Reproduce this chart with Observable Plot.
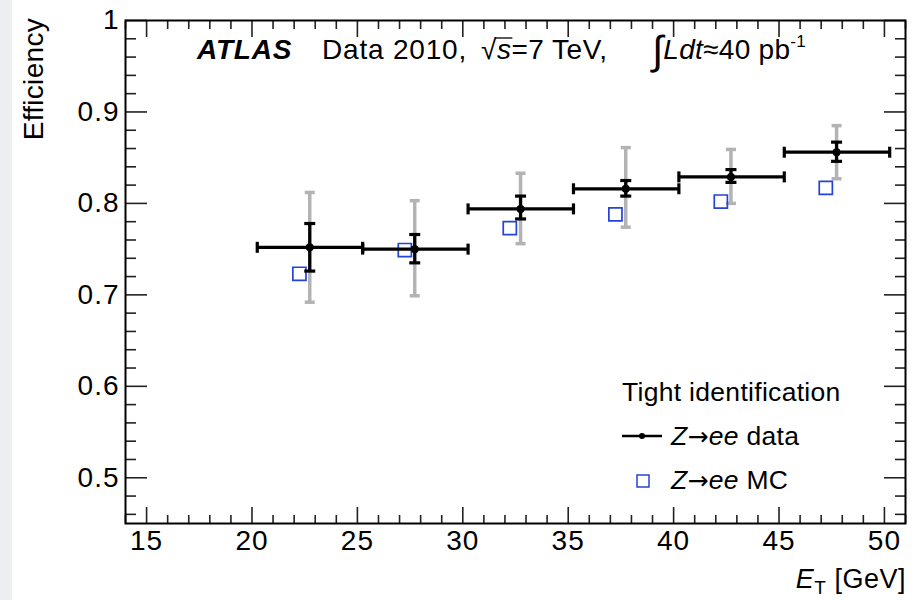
<!DOCTYPE html>
<html>
<head>
<meta charset="utf-8">
<script src="https://cdn.jsdelivr.net/npm/d3@7"></script>
<script src="https://cdn.jsdelivr.net/npm/@observablehq/plot@0.6"></script>
<style>
  body { margin: 0; background: #fff; }
  #wrap { position: relative; width: 920px; height: 600px; overflow: hidden; }
  #band { position: absolute; left: 0; top: 0; width: 12px; height: 600px; background: #eceef2; }
  svg text { font-family: "Liberation Sans", Arial, sans-serif; }
</style>
</head>
<body>
<div id="wrap"></div>
<script>
// ---- data ----
const binLo  = [20.25, 25.25, 30.25, 35.25, 40.25, 45.25];
const binHi  = [25.25, 30.25, 35.25, 40.25, 45.25, 50.25];
const dataX  = [22.74, 27.72, 32.74, 37.73, 42.72, 47.73];
const dataY  = [0.752, 0.750, 0.794, 0.816, 0.829, 0.856];
const statLo = [0.726, 0.735, 0.783, 0.808, 0.823, 0.846];
const statHi = [0.778, 0.766, 0.808, 0.825, 0.837, 0.867];
const sysLo  = [0.692, 0.699, 0.756, 0.774, 0.800, 0.827];
const sysHi  = [0.812, 0.803, 0.833, 0.861, 0.859, 0.885];
const mcX    = [22.25, 27.25, 32.23, 37.24, 42.24, 47.22];
const mcY    = [0.723, 0.749, 0.773, 0.788, 0.802, 0.817];

const xMajor = [15, 20, 25, 30, 35, 40, 45, 50];
const yMajor = [0.5, 0.6, 0.7, 0.8, 0.9, 1.0];
const xMinor = d3.range(14, 51.01, 1).filter(v => v % 5 !== 0);
const yMinor = d3.range(46, 100, 2).filter(v => v % 10 !== 0).map(v => v / 100);

const rows = dataX.map((x, i) => ({x, y: dataY[i], lo: binLo[i], hi: binHi[i],
  sLo: statLo[i], sHi: statHi[i], yLo: sysLo[i], yHi: sysHi[i]}));
const mc = mcX.map((x, i) => ({x, y: mcY[i]}));

const BLACK = "#000", GREY = "#b3b3b3", BLUE = "#2443d8";
const hCap = {draw(ctx, size) { const w = Math.sqrt(size / Math.PI); ctx.moveTo(-w, 0); ctx.lineTo(w, 0); }};
const vCap = {draw(ctx, size) { const w = Math.sqrt(size / Math.PI); ctx.moveTo(0, -w); ctx.lineTo(0, w); }};
const tk = {fill: "none", label: null, stroke: "#222", strokeWidth: 1.6};

const chart = Plot.plot({
  width: 920, height: 600,
  marginLeft: 125, marginRight: 15, marginTop: 20, marginBottom: 77,
  x: {domain: [14, 51]},
  y: {domain: [0.45, 1]},
  style: {fontFamily: "'Liberation Sans', Arial, sans-serif", background: "transparent", color: "#000", letterSpacing: "1px"},
  marks: [
    Plot.axisX(xMinor, {anchor: "bottom", tickSize: -8, ...tk}),
    Plot.axisX(xMinor, {anchor: "top", tickSize: -8, ...tk}),
    Plot.axisX(xMajor, {anchor: "bottom", tickSize: -16, ...tk}),
    Plot.axisX(xMajor, {anchor: "top", tickSize: -16, ...tk}),
    Plot.axisY(yMinor, {anchor: "left", tickSize: -11, ...tk}),
    Plot.axisY(yMinor, {anchor: "right", tickSize: -11, ...tk}),
    Plot.axisY(yMajor, {anchor: "left", tickSize: -22, ...tk}),
    Plot.axisY(yMajor, {anchor: "right", tickSize: -22, ...tk}),
    Plot.axisX(xMajor, {anchor: "bottom", tickSize: 0, tickPadding: 7, fontSize: 28, label: null}),
    Plot.axisY(yMajor, {anchor: "left", tickSize: 0, tickPadding: 6, fontSize: 28, label: null,
      tickFormat: d => d === 1 ? "1" : d.toFixed(1)}),
    Plot.frame({stroke: BLACK, strokeWidth: 2}),
    // systematic (grey)
    Plot.ruleX(rows, {x: "x", y1: "yLo", y2: "yHi", stroke: GREY, strokeWidth: 3.5}),
    Plot.dot(rows, {x: "x", y: "yLo", symbol: hCap, r: 5, stroke: GREY, strokeWidth: 3.5, fill: "none"}),
    Plot.dot(rows, {x: "x", y: "yHi", symbol: hCap, r: 5, stroke: GREY, strokeWidth: 3.5, fill: "none"}),
    // MC
    Plot.dot(mc, {x: "x", y: "y", symbol: "square", r: 7.4, stroke: BLUE, strokeWidth: 1.7, fill: "none"}),
    // data horizontal bins
    Plot.ruleY(rows, {y: "y", x1: "lo", x2: "hi", stroke: BLACK, strokeWidth: 3.2}),
    Plot.dot(rows, {x: "lo", y: "y", symbol: vCap, r: 5.5, stroke: BLACK, strokeWidth: 3.2, fill: "none"}),
    Plot.dot(rows, {x: "hi", y: "y", symbol: vCap, r: 5.5, stroke: BLACK, strokeWidth: 3.2, fill: "none"}),
    // stat errors
    Plot.ruleX(rows, {x: "x", y1: "sLo", y2: "sHi", stroke: BLACK, strokeWidth: 3.2}),
    Plot.dot(rows, {x: "x", y: "sLo", symbol: hCap, r: 5.5, stroke: BLACK, strokeWidth: 3.2, fill: "none"}),
    Plot.dot(rows, {x: "x", y: "sHi", symbol: hCap, r: 5.5, stroke: BLACK, strokeWidth: 3.2, fill: "none"}),
    Plot.dot(rows, {x: "x", y: "y", r: 4, fill: BLACK, stroke: "none"})
  ]
});

const wrap = document.getElementById("wrap");
wrap.append(chart);
const band = document.createElement("div"); band.id = "band"; wrap.append(band);

// ---- annotations (rich text) ----
const svg = d3.select(chart);
function rich(x, y, size, parts, anchor = "start", ls = "1px") {
  const t = svg.append("text").attr("x", x).attr("y", y).attr("font-size", size)
    .attr("fill", "#000").attr("letter-spacing", ls).attr("text-anchor", anchor);
  for (const p of parts) {
    const s = t.append("tspan").text(p.t);
    if (p.i) s.attr("font-style", "italic");
    if (p.b) s.attr("font-weight", "bold");
    if (p.dy) s.attr("dy", p.dy);
    if (p.fs) s.attr("font-size", p.fs);
    if (p.ff) s.attr("font-family", p.ff);
    if (p.x !== undefined) s.attr("x", p.x);
  }
  return t;
}
// header
const hy = 59;
rich(197, hy, 28, [
  {t: "ATLAS", b: true, i: true},
  {t: "Data 2010,", x: 322}
], "start", "0.8px");
const sq = rich(481, hy, 28, [{t: "√"}, {t: "s", i: true}, {t: "=7 TeV,"}], "start", "0.5px");
{
  const n = sq.node();
  const a = n.getEndPositionOfChar(0), b = n.getEndPositionOfChar(1);
  svg.append("line").attr("x1", a.x - 1.5).attr("x2", b.x + 1)
    .attr("y1", hy - 21).attr("y2", hy - 21).attr("stroke", "#000").attr("stroke-width", 1.3);
}
rich(652, hy, 28, [
  {t: "∫", fs: 40, dy: 5},
  {t: "L", i: true, dy: -5},
  {t: "dt", i: true},
  {t: "≈40 pb"},
  {t: "-1", fs: 17, dy: -12}
], "start", "0.3px");
// legend
const arrow = {t: "→", ff: "'DejaVu Sans', sans-serif", fs: 25};
rich(622, 401, 26.5, [{t: "Tight identification"}], "start", "0.3px");
svg.append("line").attr("x1", 622).attr("x2", 662).attr("y1", 436).attr("y2", 436)
  .attr("stroke", BLACK).attr("stroke-width", 2.5);
svg.append("circle").attr("cx", 642).attr("cy", 436).attr("r", 3).attr("fill", BLACK);
rich(671, 445, 26.5, [{t: "Z", i: true}, arrow, {t: "ee", i: true}, {t: " data"}], "start", "0.3px");
svg.append("rect").attr("x", 637).attr("y", 475).attr("width", 12).attr("height", 12)
  .attr("fill", "none").attr("stroke", BLUE).attr("stroke-width", 1.5);
rich(671, 489, 26.5, [{t: "Z", i: true}, arrow, {t: "ee", i: true}, {t: " MC"}], "start", "0.3px");
// axis titles
rich(906, 588, 27, [{t: "E", i: true}, {t: "T", fs: 19, dy: 6}, {t: " [GeV]", dy: -6}], "end", "0.5px");
svg.append("text").attr("transform", "translate(43,18) rotate(-90)").attr("text-anchor", "end")
  .attr("font-size", 28).attr("letter-spacing", "0.3px").attr("fill", "#000").text("Efficiency");
</script>
</body>
</html>
